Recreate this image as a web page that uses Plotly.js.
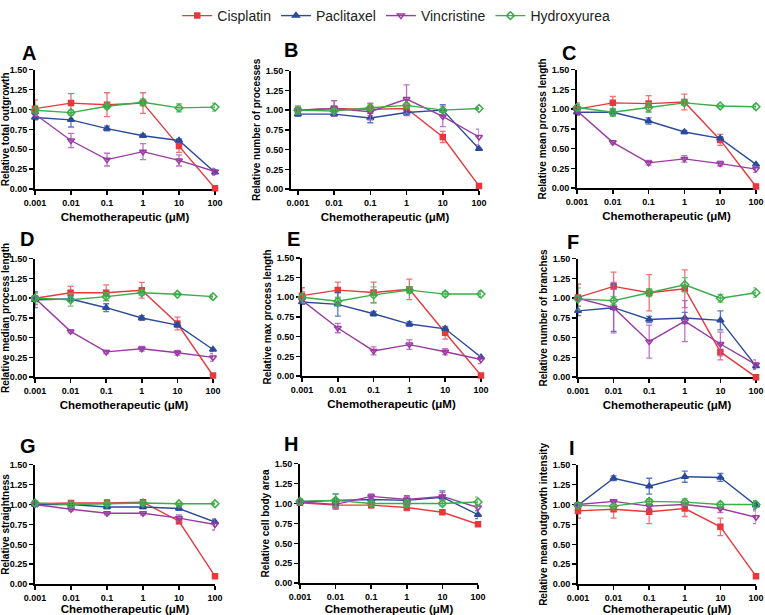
<!DOCTYPE html>
<html>
<head>
<meta charset="utf-8">
<script src="https://cdn.plot.ly/plotly-3.0.1.min.js"></script>
<style>html,body{margin:0;padding:0;background:#fff;}#chart{width:765px;height:615px;}</style>
</head>
<body>
<div id="chart"></div>
<script>
// ---- data ----
const concentrations = [0.001, 0.01, 0.1, 1, 10, 100];
const xTickLabels = ['0.001', '0.01', '0.1', '1', '10', '100'];
const yTickValues = [0, 0.25, 0.5, 0.75, 1, 1.25, 1.5];
const seriesNames = ['Cisplatin', 'Paclitaxel', 'Vincristine', 'Hydroxyurea'];
const panelLetters = ['A', 'B', 'C', 'D', 'E', 'F', 'G', 'H', 'I'];
const yTitles = [
  'Relative total outgrowth', 'Relative number of processes', 'Relative mean process length',
  'Relative median process length', 'Relative max process length', 'Relative number of branches',
  'Relative straightness', 'Relative cell body area', 'Relative mean outgrowth intensity'
];
const xTitle = 'Chemotherapeutic (μM)';

// rows = panels A..I, columns = concentrations
const cisplatinMean = [
  [1.01, 1.08, 1.06, 1.08, 0.54, 0.01],
  [1.00, 1.02, 1.01, 1.02, 0.66, 0.04],
  [1.00, 1.08, 1.07, 1.09, 0.61, 0.02],
  [1.00, 1.07, 1.07, 1.10, 0.68, 0.02],
  [1.02, 1.09, 1.06, 1.10, 0.55, 0.01],
  [1.01, 1.15, 1.07, 1.12, 0.32, 0.00],
  [1.01, 1.02, 1.02, 1.03, 0.79, 0.10],
  [1.01, 0.98, 0.98, 0.95, 0.89, 0.74],
  [0.92, 0.94, 0.91, 0.95, 0.72, 0.10]
];
const cisplatinErr = [
  [0.11, 0.12, 0.15, 0.13, 0.08, 0.00],
  [0.05, 0.10, 0.08, 0.05, 0.07, 0.01],
  [0.08, 0.08, 0.10, 0.10, 0.07, 0.00],
  [0.08, 0.08, 0.10, 0.10, 0.08, 0.00],
  [0.10, 0.10, 0.13, 0.13, 0.08, 0.00],
  [0.17, 0.18, 0.23, 0.24, 0.10, 0.00],
  [0.02, 0.03, 0.04, 0.03, 0.03, 0.01],
  [0.02, 0.05, 0.03, 0.04, 0.02, 0.02],
  [0.09, 0.11, 0.15, 0.10, 0.11, 0.01]
];
const paclitaxelMean = [
  [0.90, 0.87, 0.76, 0.67, 0.61, 0.21],
  [0.95, 0.95, 0.90, 0.97, 1.00, 0.51],
  [0.96, 0.96, 0.85, 0.71, 0.63, 0.30],
  [0.98, 0.99, 0.88, 0.75, 0.66, 0.35],
  [0.94, 0.91, 0.79, 0.66, 0.60, 0.24],
  [0.84, 0.88, 0.73, 0.75, 0.72, 0.14],
  [1.00, 1.00, 0.97, 0.97, 0.95, 0.78],
  [1.02, 1.04, 1.05, 1.04, 1.08, 0.86],
  [0.99, 1.33, 1.23, 1.35, 1.34, 0.99]
];
const paclitaxelErr = [
  [0.03, 0.09, 0.03, 0.02, 0.02, 0.03],
  [0.03, 0.03, 0.06, 0.04, 0.07, 0.02],
  [0.03, 0.04, 0.04, 0.02, 0.02, 0.02],
  [0.10, 0.03, 0.05, 0.03, 0.03, 0.02],
  [0.03, 0.15, 0.03, 0.03, 0.02, 0.02],
  [0.06, 0.30, 0.04, 0.07, 0.12, 0.03],
  [0.03, 0.02, 0.02, 0.02, 0.02, 0.03],
  [0.02, 0.08, 0.04, 0.06, 0.08, 0.05],
  [0.02, 0.03, 0.10, 0.07, 0.05, 0.05]
];
const vincristineMean = [
  [0.94, 0.61, 0.37, 0.47, 0.36, 0.22],
  [1.00, 1.02, 0.98, 1.14, 0.92, 0.66],
  [0.98, 0.58, 0.32, 0.37, 0.31, 0.24],
  [1.00, 0.58, 0.32, 0.36, 0.31, 0.25],
  [0.96, 0.61, 0.32, 0.40, 0.31, 0.21],
  [1.00, 0.88, 0.45, 0.71, 0.42, 0.16],
  [1.00, 0.94, 0.89, 0.89, 0.83, 0.75],
  [1.02, 0.99, 1.09, 1.05, 1.09, 0.95],
  [1.00, 1.04, 0.98, 1.00, 0.95, 0.84]
];
const vincristineErr = [
  [0.03, 0.09, 0.08, 0.10, 0.07, 0.04],
  [0.03, 0.10, 0.10, 0.18, 0.13, 0.10],
  [0.02, 0.02, 0.03, 0.04, 0.03, 0.04],
  [0.02, 0.02, 0.02, 0.03, 0.03, 0.05],
  [0.03, 0.06, 0.05, 0.06, 0.04, 0.05],
  [0.02, 0.32, 0.21, 0.26, 0.15, 0.06],
  [0.02, 0.02, 0.02, 0.02, 0.04, 0.07],
  [0.02, 0.06, 0.03, 0.04, 0.05, 0.04],
  [0.02, 0.02, 0.03, 0.02, 0.05, 0.08]
];
const hydroxyureaMean = [
  [0.99, 0.96, 1.04, 1.09, 1.02, 1.03],
  [1.00, 0.99, 1.03, 1.06, 1.00, 1.02],
  [1.02, 0.96, 1.02, 1.08, 1.04, 1.03],
  [1.00, 0.98, 1.02, 1.07, 1.05, 1.02],
  [1.00, 0.95, 1.03, 1.09, 1.04, 1.04],
  [0.99, 0.97, 1.07, 1.17, 1.00, 1.07],
  [1.02, 1.00, 1.01, 1.02, 1.01, 1.01],
  [1.03, 1.04, 1.00, 1.00, 1.00, 1.02],
  [0.99, 0.98, 1.04, 1.03, 1.00, 1.00]
];
const hydroxyureaErr = [
  [0.06, 0.03, 0.03, 0.04, 0.05, 0.05],
  [0.05, 0.03, 0.03, 0.03, 0.02, 0.01],
  [0.04, 0.05, 0.06, 0.03, 0.01, 0.03],
  [0.06, 0.08, 0.05, 0.03, 0.01, 0.02],
  [0.07, 0.05, 0.10, 0.04, 0.03, 0.04],
  [0.14, 0.05, 0.05, 0.09, 0.05, 0.06],
  [0.03, 0.03, 0.02, 0.02, 0.01, 0.01],
  [0.03, 0.08, 0.03, 0.04, 0.03, 0.06],
  [0.02, 0.02, 0.03, 0.04, 0.03, 0.05]
];

// ---- styling / layout ----
const W = 765, H = 615;
const FONT = 'Liberation Sans, Arial, Helvetica, sans-serif';
const seriesStyle = [
  {color: '#e8383d', err: 'rgba(236,90,94,0.85)', symbol: 'square', size: 5},
  {color: '#2c4a9c', err: 'rgba(60,95,185,0.85)', symbol: 'triangle-up', size: 6},
  {color: '#9a3aa3', err: 'rgba(180,90,190,0.85)', symbol: 'triangle-down-open', size: 6},
  {color: '#3aad48', err: 'rgba(90,190,100,0.85)', symbol: 'diamond-open', size: 6}
];
const seriesMeans = [cisplatinMean, paclitaxelMean, vincristineMean, hydroxyureaMean];
const seriesErrs = [cisplatinErr, paclitaxelErr, vincristineErr, hydroxyureaErr];

// pixel boxes of each panel (left, right, top, bottom) and log-range start
const panelBoxes = [
  {l: 35, r: 215, t: 67, b: 187, x0: -3},
  {l: 291, r: 479, t: 68, b: 187, x0: -3.19},
  {l: 577, r: 756, t: 67, b: 186, x0: -3},
  {l: 35, r: 213, t: 257, b: 376, x0: -3},
  {l: 302, r: 481, t: 256, b: 375, x0: -3},
  {l: 578, r: 756, t: 257, b: 376, x0: -3},
  {l: 35, r: 215, t: 464, b: 584, x0: -3},
  {l: 300, r: 478, t: 463, b: 583, x0: -3},
  {l: 578, r: 756, t: 464, b: 584, x0: -3}
];
const letterPos = [
  [20, 50], [282, 47], [560, 50], [18, 237], [285, 237], [565, 240], [18, 445], [282, 443], [567, 447]
];

const traces = [];
const layout = {
  width: W, height: H,
  margin: {l: 0, r: 0, t: 0, b: 0},
  paper_bgcolor: '#fff', plot_bgcolor: 'rgba(0,0,0,0)',
  font: {family: FONT, color: '#000'},
  showlegend: true,
  legend: {
    orientation: 'h', x: 0.518, xanchor: 'center', y: 1.005, yanchor: 'top',
    font: {family: FONT, size: 14, color: '#222'}, itemwidth: 30, traceorder: 'normal'
  },
  annotations: []
};

panelBoxes.forEach((bx, p) => {
  const n = p === 0 ? '' : String(p + 1);
  const xa = 'xaxis' + n, ya = 'yaxis' + n;
  layout[xa] = {
    type: 'log', range: [bx.x0, 2], domain: [bx.l / W, bx.r / W], anchor: 'y' + n,
    tickvals: concentrations, ticktext: xTickLabels, ticklabeloverflow: 'allow',
    showline: true, linecolor: '#000', linewidth: 2, mirror: false,
    ticks: 'outside', ticklen: 4, tickwidth: 1.5, tickcolor: '#000',
    showgrid: false, zeroline: false, layer: 'below traces',
    tickfont: {family: FONT, size: 9, weight: 'bold', color: '#000'},
    title: {text: xTitle, font: {family: FONT, size: 11.5, weight: 'bold', color: '#000'}, standoff: 6}
  };
  layout[ya] = {
    range: [0, 1.5], domain: [1 - bx.b / H, 1 - bx.t / H], anchor: 'x' + n,
    tickvals: yTickValues, tickformat: '.2f',
    showline: true, linecolor: '#000', linewidth: 2,
    ticks: 'outside', ticklen: 4, tickwidth: 1.5, tickcolor: '#000',
    showgrid: false, zeroline: false, layer: 'below traces',
    tickfont: {family: FONT, size: 9, weight: 'bold', color: '#000'},
    title: {text: yTitles[p], font: {family: FONT, size: 10, weight: 'bold', color: '#000'}, standoff: 3}
  };
  layout.annotations.push({
    text: panelLetters[p], xref: 'paper', yref: 'paper',
    x: letterPos[p][0] / W, y: 1 - letterPos[p][1] / H, xanchor: 'left', yanchor: 'middle',
    showarrow: false, font: {family: FONT, size: 20, weight: 'bold', color: '#000'}
  });
  seriesNames.forEach((name, s) => {
    const st = seriesStyle[s];
    traces.push({
      type: 'scatter', mode: 'lines+markers', name: name,
      x: concentrations, y: seriesMeans[s][p],
      xaxis: 'x' + n, yaxis: 'y' + n,
      showlegend: p === 0, legendgroup: name, cliponaxis: false,
      line: {color: st.color, width: 1.4},
      marker: {symbol: st.symbol, size: st.size, color: st.color, line: {color: st.color, width: 1.5}},
      error_y: {type: 'data', array: seriesErrs[s][p], visible: true, color: st.err, thickness: 1.3, width: 3}
    });
  });
});

Plotly.newPlot('chart', traces, layout, {staticPlot: true, displayModeBar: false});
</script>
</body>
</html>
